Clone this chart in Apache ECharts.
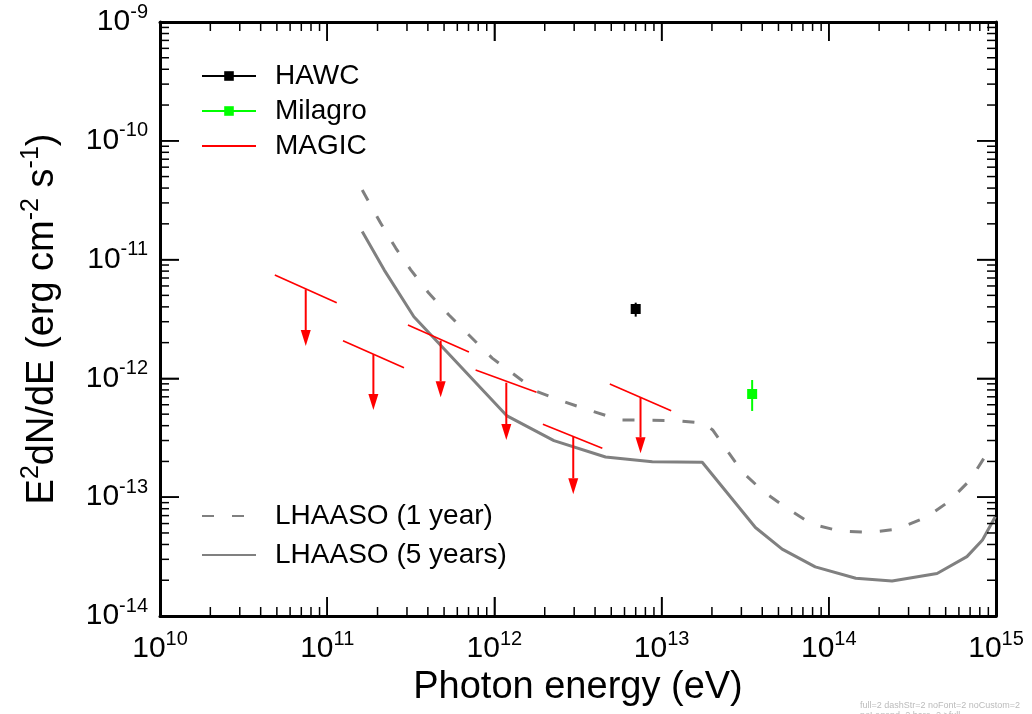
<!DOCTYPE html>
<html><head><meta charset="utf-8">
<script src="https://cdn.jsdelivr.net/npm/echarts@6/dist/echarts.min.js"></script>
<style>html,body{margin:0;padding:0;background:#fff}#c{width:1032px;height:714px}#d{position:absolute;left:860px;top:700px;font:9px sans-serif;color:#bbb}</style>
</head><body><div id="c"></div><div id="d"></div>
<script>
const FONT = "'Liberation Sans', Arial, Helvetica, sans-serif";

// Axis ranges and tick layout
const xRange = [1e10, 1e15];
const yRange = [1e-14, 1e-9];
const xDecades = [10, 11, 12, 13, 14, 15];
const yDecades = [-14, -13, -12, -11, -10, -9];
const minorMultipliers = [2, 3, 4, 5, 6, 7, 8, 9];

// LHAASO sensitivity curves
const lhaaso1yE = [1.62e11, 2.09e11, 2.57e11, 3.16e11, 4.06e11, 5.35e11, 7.04e11, 9.7e11, 1.8e12, 2.6e12, 3.93e12, 5.68e12, 1.24e13, 1.79e13, 2.02e13, 2.41e13, 3.03e13, 4.08e13, 5.64e13, 7.95e13, 1.17e14, 1.73e14, 2.56e14, 3.87e14, 5.21e14, 7.02e14, 8.84e14, 9.63e14];
const lhaaso1yF = [3.86e-11, 2.02e-11, 1.25e-11, 8.2e-12, 5.2e-12, 3.42e-12, 2.32e-12, 1.48e-12, 7.73e-13, 6.37e-13, 5.25e-13, 4.47e-13, 4.41e-13, 4.19e-13, 3.68e-13, 2.58e-13, 1.64e-13, 1.11e-13, 8.06e-14, 5.92e-14, 5.19e-14, 5.06e-14, 5.37e-14, 6.85e-14, 9.16e-14, 1.40e-13, 2.34e-13, 2.70e-13];
const lhaaso5yE = [1.62e11, 2.19e11, 3.30e11, 1.19e12, 2.27e12, 4.62e12, 8.8e12, 1.75e13, 3.64e13, 5.26e13, 8.3e13, 1.45e14, 2.39e14, 4.44e14, 6.7e14, 8.3e14, 9.9e14];
const lhaaso5yF = [1.72e-11, 8.2e-12, 3.3e-12, 4.83e-13, 2.99e-13, 2.18e-13, 1.99e-13, 1.97e-13, 5.56e-14, 3.66e-14, 2.59e-14, 2.08e-14, 1.97e-14, 2.28e-14, 3.16e-14, 4.36e-14, 6.85e-14];

// HAWC point
const hawcE = [7.0e12];
const hawcF = [3.84e-12];
const hawcFlo = [3.31e-12];
const hawcFhi = [4.34e-12];

// Milagro point
const milagroE = [3.48e13];
const milagroF = [7.39e-13];
const milagroFlo = [5.32e-13];
const milagroFhi = [9.69e-13];

// MAGIC upper limits
const magicElo = [4.86e10, 1.243e11, 3.04e11, 7.72e11, 1.95e12, 4.90e12];
const magicEhi = [1.14e11, 2.88e11, 7.04e11, 1.787e12, 4.42e12, 1.141e13];
const magicEc  = [7.44e10, 1.889e11, 4.77e11, 1.178e12, 2.962e12, 7.48e12];
const magicFlo = [7.42e-12, 2.076e-12, 2.815e-12, 1.177e-12, 4.11e-13, 8.97e-13];
const magicFhi = [4.34e-12, 1.231e-12, 1.668e-12, 7.64e-13, 2.58e-13, 5.35e-13];
const magicFc  = [5.62e-12, 1.595e-12, 2.076e-12, 9.2e-13, 3.23e-13, 6.93e-13];
const magicFtip = [1.874e-12, 5.42e-13, 6.93e-13, 3.03e-13, 1.058e-13, 2.34e-13];

// tick positions (major at decades, minor at 2..9 x decade)
const xTicks = [];
xDecades.forEach((d, i) => {
  xTicks.push([Math.pow(10, d), 1]);
  if (i < xDecades.length - 1) minorMultipliers.forEach(m => xTicks.push([m * Math.pow(10, d), 0]));
});
const yTicks = [];
yDecades.forEach((d, i) => {
  yTicks.push([Math.pow(10, d), 1]);
  if (i < yDecades.length - 1) minorMultipliers.forEach(m => yTicks.push([m * Math.pow(10, d), 0]));
});

const zip = (a, b) => a.map((v, i) => [v, b[i]]);
const MAJ = 19, MIN = 9;
const xMid = 1e12, yMid = 1e-12;

function buildOption(f) {
  const fam = f.font ? {fontFamily: FONT} : {};
  const T = o => Object.assign({}, fam, o);
  const labelFmt = v => '{b|10}{s|' + Math.round(Math.log10(v)) + '}';
  const labelRich = {
    b: T({fontSize: 30, color: '#000', lineHeight: 30}),
    s: T({fontSize: 20, color: '#000', padding: [0, 0, 20, 0]})
  };
  const baseAxis = extra => Object.assign({
    type: 'log',
    axisLine: {show: true, onZero: false, lineStyle: {color: '#000', width: 3}},
    axisTick: {show: true, inside: true, length: MAJ, lineStyle: {color: '#000', width: 1.5}},
    splitLine: {show: false}
  }, extra);
  const series = [
    {
      name: 'xticks', type: 'custom', z: 7,
      data: xTicks.map(t => [t[0], yMid, t[1]]),
      encode: {x: 0, y: 1},
      renderItem: (params, api) => {
        const v = api.value(0);
        const len = api.value(2) ? MAJ : MIN;
        const b = api.coord([v, yRange[0]]);
        const t = api.coord([v, yRange[1]]);
        return {type: 'group', children: [
          {type: 'line', shape: {x1: b[0], y1: b[1], x2: b[0], y2: b[1] - len}, style: {stroke: '#000', lineWidth: 1.5}},
          {type: 'line', shape: {x1: t[0], y1: t[1], x2: t[0], y2: t[1] + len}, style: {stroke: '#000', lineWidth: 1.5}}
        ]};
      }
    },
    {
      name: 'yticks', type: 'custom', z: 7,
      data: yTicks.map(t => [xMid, t[0], t[1]]),
      encode: {x: 0, y: 1},
      renderItem: (params, api) => {
        const v = api.value(1);
        const len = api.value(2) ? MAJ : MIN;
        const l = api.coord([xRange[0], v]);
        const r = api.coord([xRange[1], v]);
        return {type: 'group', children: [
          {type: 'line', shape: {x1: l[0], y1: l[1], x2: l[0] + len, y2: l[1]}, style: {stroke: '#000', lineWidth: 1.5}},
          {type: 'line', shape: {x1: r[0], y1: r[1], x2: r[0] - len, y2: r[1]}, style: {stroke: '#000', lineWidth: 1.5}}
        ]};
      }
    },
    {
      name: 'LHAASO (1 year)', type: 'line', data: zip(lhaaso1yE, lhaaso1yF),
      symbol: 'none', color: '#808080',
      lineStyle: {color: '#808080', width: 3, type: f.dashArr ? [12, 18] : 'dashed'}, z: 3
    },
    {
      name: 'LHAASO (5 years)', type: 'line', data: zip(lhaaso5yE, lhaaso5yF),
      symbol: 'none', color: '#808080',
      lineStyle: {color: '#808080', width: 3}, z: 3
    },
    {
      name: 'MAGIC', type: 'line', data: [], symbol: 'none', color: '#ff0000',
      lineStyle: {color: '#ff0000', width: 2}
    },
    {
      name: 'HAWC', type: 'line', data: zip(hawcE, hawcF), symbol: 'rect', symbolSize: 10,
      color: '#000000', itemStyle: {color: '#000000'}, lineStyle: {color: '#000000', width: 2}, z: 6
    },
    {
      name: 'Milagro', type: 'line', data: zip(milagroE, milagroF), symbol: 'rect', symbolSize: 10,
      color: '#00ff00', itemStyle: {color: '#00ff00'}, lineStyle: {color: '#00ff00', width: 2}, z: 6
    }
  ];
  if (f.custom) {
    series.push({
      name: 'magic-limits', type: 'custom', z: 4,
      data: magicEc.map((e, i) => [e, magicFc[i], magicElo[i], magicFlo[i], magicEhi[i], magicFhi[i], magicFtip[i]]),
      encode: {x: 0, y: 1},
      renderItem: (params, api) => {
        const a = api.coord([api.value(2), api.value(3)]);
        const b = api.coord([api.value(4), api.value(5)]);
        const c = api.coord([api.value(0), api.value(1)]);
        const t = api.coord([api.value(0), api.value(6)]);
        const ah = 16, aw = 5;
        return {type: 'group', children: [
          {type: 'line', shape: {x1: a[0], y1: a[1], x2: b[0], y2: b[1]}, style: {stroke: '#ff0000', lineWidth: 1.6}},
          {type: 'line', shape: {x1: c[0], y1: c[1], x2: t[0], y2: t[1] - ah}, style: {stroke: '#ff0000', lineWidth: 2}},
          {type: 'polygon', shape: {points: [[t[0] - aw, t[1] - ah], [t[0] + aw, t[1] - ah], [t[0], t[1]]]}, style: {fill: '#ff0000'}}
        ]};
      }
    });
    series.push({
      name: 'err', type: 'custom', z: 5,
      data: [
        [hawcE[0], hawcFlo[0], hawcFhi[0], 0],
        [milagroE[0], milagroFlo[0], milagroFhi[0], 1]
      ],
      encode: {x: 0, y: 1},
      renderItem: (params, api) => {
        const lo = api.coord([api.value(0), api.value(1)]);
        const hi = api.coord([api.value(0), api.value(2)]);
        const col = api.value(3) === 0 ? '#000000' : '#00ff00';
        return {type: 'line', shape: {x1: lo[0], y1: lo[1], x2: hi[0], y2: hi[1]}, style: {stroke: col, lineWidth: 2}};
      }
    });
  }
  const opt = {
    animation: false,
    backgroundColor: '#fff',
    grid: {left: 160, right: 36, top: 22, bottom: 98},
    xAxis: [
      baseAxis({
        position: 'bottom', min: xRange[0], max: xRange[1],
        axisLabel: {formatter: labelFmt, rich: labelRich, margin: 13},
        name: 'Photon energy (eV)', nameLocation: 'middle', nameGap: 42,
        nameTextStyle: T({fontSize: 38, color: '#000'})
      }),
      baseAxis({position: 'top', min: xRange[0], max: xRange[1], axisLabel: {show: false}})
    ],
    yAxis: [
      baseAxis({
        position: 'left', min: yRange[0], max: yRange[1],
        axisLabel: {formatter: labelFmt, rich: labelRich, margin: 12, align: 'right'},
        name: '{m|E}{s|2}{m|dN/dE (erg cm}{s|-2}{m| s}{s|-1}{m|)}',
        nameLocation: 'middle', nameGap: 94, nameRotate: 90,
        nameTextStyle: {rich: {
          m: T({fontSize: 38, color: '#000', lineHeight: 40}),
          s: T({fontSize: 25, color: '#000', padding: [0, 0, 22, 0]})
        }}
      }),
      baseAxis({position: 'right', min: yRange[0], max: yRange[1], axisLabel: {show: false}})
    ],
    series: series
  };
  if (f.legend) {
    opt.legend = [
      {
        data: ['HAWC', 'Milagro', {name: 'MAGIC', itemStyle: {opacity: 0}}],
        orient: 'vertical', left: 201, top: 61, padding: 0,
        itemWidth: 54, itemHeight: 12, itemGap: 5, selectedMode: false,
        textStyle: T({fontSize: 28, color: '#000', lineHeight: 30, padding: [0, 0, 0, 14]})
      },
      {
        data: [{name: 'LHAASO (1 year)', itemStyle: {opacity: 0}}, {name: 'LHAASO (5 years)', itemStyle: {opacity: 0}}],
        orient: 'vertical', left: 201, top: 501, padding: 0,
        itemWidth: 54, itemHeight: 12, itemGap: 9, selectedMode: false,
        textStyle: T({fontSize: 28, color: '#000', lineHeight: 30, padding: [0, 0, 0, 14]})
      }
    ];
  }
  return opt;
}

const chart = echarts.init(document.getElementById('c'));

function ticksVisible() {
  try {
    const cv = document.querySelector('#c canvas');
    const ctx = cv.getContext('2d');
    const p = chart.convertToPixel({xAxisIndex: 0, yAxisIndex: 0}, [1e12, 1e-14]);
    const q = chart.convertToPixel({xAxisIndex: 0, yAxisIndex: 0}, [3e10, 1e-14]);
    let dark = 0;
    [[p[0], p[1] - 10], [q[0], q[1] - 5]].forEach(pt => {
      for (let dx = -2; dx <= 2; dx++) {
        const d = ctx.getImageData(Math.round(pt[0]) + dx, Math.round(pt[1]), 1, 1).data;
        if (d[3] > 100 && d[0] < 140) { dark++; break; }
      }
    });
    return dark;
  } catch (e) { return 'E:' + e.message; }
}

const variants = [
  ['full', {font: 1, dashArr: 1, custom: 1, legend: 1}],
  ['dashStr', {font: 1, dashArr: 0, custom: 1, legend: 1}],
  ['noFont', {font: 0, dashArr: 1, custom: 1, legend: 1}],
  ['noCustom', {font: 1, dashArr: 1, custom: 0, legend: 1}],
  ['noLegend', {font: 1, dashArr: 1, custom: 1, legend: 0}],
  ['bare', {font: 0, dashArr: 0, custom: 0, legend: 0}]
];
const diag = [];
let chosen = null;
for (const v of variants) {
  let r;
  try { chart.setOption(buildOption(v[1]), true); r = ticksVisible(); } catch (e) { r = 'X:' + e.message; }
  diag.push(v[0] + '=' + r);
  if (!chosen && r === 2 && v[0] !== 'noCustom' && v[0] !== 'noLegend' && v[0] !== 'bare') chosen = v;
}
const finalVariant = chosen || variants[0];
chart.setOption(buildOption(finalVariant[1]), true);
document.getElementById('d').textContent = diag.join(' ') + ' >' + finalVariant[0];
</script>
</body></html>
